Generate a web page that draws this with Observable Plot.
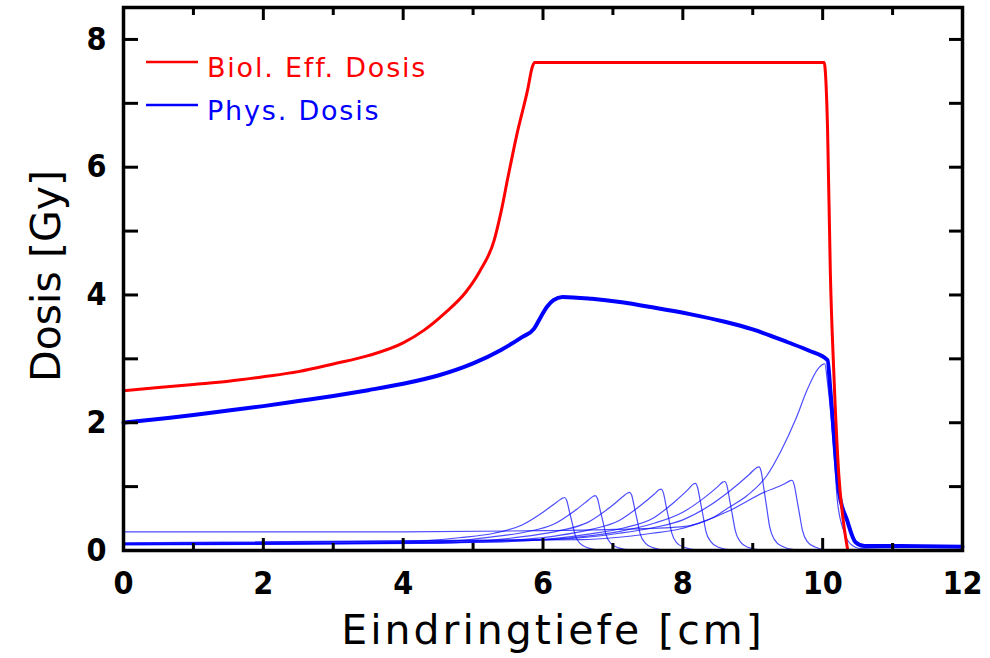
<!DOCTYPE html>
<html><head><meta charset="utf-8">
<script src="https://cdn.jsdelivr.net/npm/d3@7"></script>
<script src="https://cdn.jsdelivr.net/npm/@observablehq/plot@0.6"></script>
<style>
html,body{margin:0;padding:0;background:#fff;}
#chart{width:990px;height:658px;}
</style></head><body><div id="chart"></div>
<script>
// ---- tick labels / texts ----
const xTicks = [0, 2, 4, 6, 8, 10, 12];
const xMinorTicks = [1, 3, 5, 7, 9, 11];
const yTicks = [0, 2, 4, 6, 8];
const yAllTicks = [1, 2, 3, 4, 5, 6, 7, 8];
const xLabel = "Eindringtiefe [cm]";
const yLabel = "Dosis [Gy]";
const seriesNames = ["Biol. Eff. Dosis", "Phys. Dosis"];

// ---- Biol. Eff. Dosis (red) ----
const bioDepth = [0, 0.5, 1.0, 1.5, 2.0, 2.5, 3.0, 3.5, 4.0, 4.3, 4.6, 4.9, 5.1, 5.3, 5.4, 5.5, 5.63, 5.78, 5.85, 5.88, 10.02, 10.07, 10.11, 10.16, 10.23, 10.30, 10.36];
const bioDose  = [2.50, 2.55, 2.60, 2.65, 2.72, 2.80, 2.92, 3.05, 3.25, 3.45, 3.72, 4.05, 4.38, 4.85, 5.30, 5.85, 6.53, 7.21, 7.58, 7.64, 7.64, 6.60, 4.34, 2.77, 1.20, 0.42, 0.0];

// ---- Phys. Dosis (blue) ----
const physDepth = [0, 0.5, 1.0, 1.5, 2.0, 2.5, 3.0, 3.5, 4.0, 4.5, 5.0, 5.4, 5.7, 5.87, 5.97, 6.06, 6.15, 6.28, 6.7, 7.1, 7.6, 8.1, 8.6, 9.0, 9.5, 9.8, 10.07, 10.11, 10.23, 10.35, 10.47, 10.6, 11.0, 12.0];
const physDose  = [2.00, 2.06, 2.12, 2.19, 2.26, 2.34, 2.42, 2.51, 2.61, 2.74, 2.93, 3.14, 3.34, 3.47, 3.66, 3.82, 3.92, 3.97, 3.94, 3.89, 3.80, 3.70, 3.58, 3.46, 3.26, 3.13, 2.98, 2.51, 0.94, 0.47, 0.13, 0.07, 0.07, 0.06];

// ---- single Bragg peaks [depth, dose] ----
const bragg1 = [[0,0.09],[3.3,0.11],[4.3,0.15],[4.8,0.20],[5.3,0.27],[5.7,0.40],[6.0,0.60],[6.2,0.76],[6.28,0.82],[6.31,0.83],[6.34,0.78],[6.38,0.60],[6.42,0.42],[6.46,0.24],[6.53,0.11],[6.64,0.04],[6.81,0.01],[12,0]];
const bragg2 = [[0,0.09],[3.75,0.11],[4.75,0.15],[5.25,0.21],[5.75,0.29],[6.15,0.41],[6.45,0.62],[6.65,0.79],[6.72,0.85],[6.75,0.86],[6.78,0.81],[6.82,0.62],[6.86,0.44],[6.90,0.25],[6.97,0.11],[7.08,0.04],[7.25,0.01],[12,0]];
const bragg3 = [[0,0.09],[4.24,0.11],[5.24,0.16],[5.74,0.22],[6.24,0.31],[6.64,0.44],[6.94,0.66],[7.14,0.84],[7.21,0.90],[7.24,0.91],[7.27,0.86],[7.31,0.66],[7.35,0.46],[7.39,0.26],[7.46,0.12],[7.57,0.045],[7.74,0.01],[12,0]];
const bragg4 = [[0,0.10],[4.69,0.12],[5.69,0.17],[6.19,0.23],[6.69,0.33],[7.09,0.47],[7.39,0.70],[7.59,0.88],[7.66,0.95],[7.69,0.96],[7.72,0.91],[7.76,0.70],[7.80,0.49],[7.84,0.28],[7.91,0.125],[8.02,0.05],[8.19,0.01],[12,0]];
const bragg5 = [[0,0.10],[5.18,0.13],[6.18,0.19],[6.68,0.26],[7.18,0.36],[7.58,0.51],[7.88,0.76],[8.08,0.96],[8.15,1.04],[8.18,1.05],[8.21,0.99],[8.25,0.77],[8.29,0.54],[8.33,0.30],[8.40,0.14],[8.51,0.05],[8.68,0.01],[12,0]];
const bragg6 = [[0,0.11],[5.6,0.15],[6.6,0.22],[7.1,0.30],[7.6,0.43],[8.0,0.60],[8.3,0.82],[8.5,1.00],[8.57,1.07],[8.60,1.08],[8.63,1.02],[8.67,0.79],[8.71,0.55],[8.75,0.31],[8.82,0.14],[8.93,0.05],[9.10,0.01],[12,0]];
const bragg7 = [[0,0.12],[6.09,0.17],[7.09,0.27],[7.59,0.36],[8.0,0.48],[8.35,0.68],[8.68,0.94],[8.95,1.19],[9.06,1.30],[9.09,1.31],[9.12,1.24],[9.16,0.96],[9.20,0.67],[9.24,0.38],[9.31,0.17],[9.42,0.065],[9.59,0.013],[12,0]];
const bragg8 = [[0,0.11],[6.56,0.17],[7.56,0.27],[7.97,0.34],[8.21,0.42],[8.68,0.63],[9.16,0.91],[9.45,1.04],[9.53,1.09],[9.56,1.10],[9.59,1.04],[9.63,0.81],[9.67,0.56],[9.71,0.32],[9.78,0.14],[9.89,0.055],[10.06,0.011],[12,0]];
const bragg9 = [[0,0.29],[4.0,0.29],[6.0,0.31],[7.0,0.33],[7.97,0.37],[8.44,0.52],[8.64,0.66],[8.92,0.86],[9.2,1.17],[9.40,1.55],[9.62,2.07],[9.78,2.52],[9.93,2.84],[10.03,2.92],[10.07,2.62],[10.16,1.57],[10.21,0.78],[10.30,0.31],[10.40,0.10],[10.55,0.03],[12,0.01]];

// ---- build ----
const W = 990, H = 658, mL = 123, mR = 28, mT = 7, mB = 108;
const innerW = W - mL - mR, innerH = H - mT - mB;
const RED = "#ff0000", BLUE = "#0000ff";
const tickFont = "'DejaVu Sans Condensed', 'DejaVu Sans', sans-serif";
const bio = bioDepth.map((x, i) => ({x, y: bioDose[i]}));
const phys = physDepth.map((x, i) => ({x, y: physDose[i]}));
const braggs = [bragg1, bragg2, bragg3, bragg4, bragg5, bragg6, bragg7, bragg8, bragg9];

const plot = Plot.plot({
  width: W, height: H,
  marginLeft: mL, marginRight: mR, marginTop: mT, marginBottom: mB,
  x: {domain: [0, 12], label: null},
  y: {domain: [0, 8.5], label: null},
  style: {background: "white", fontFamily: tickFont},
  marks: [
    ...braggs.map(b => Plot.line(b, {x: d => d[0], y: d => d[1], stroke: BLUE, strokeOpacity: 0.7, strokeWidth: 1.2, curve: "monotone-x"})),
    Plot.line(phys, {x: "x", y: "y", stroke: BLUE, strokeWidth: 4, curve: "monotone-x"}),
    Plot.line(bio, {x: "x", y: "y", stroke: RED, strokeWidth: 3, curve: "monotone-x"}),
    // inward ticks
    Plot.ruleX(xTicks, {x: d => d, insetTop: innerH - 12, stroke: "black", strokeWidth: 3}),
    Plot.ruleX(xMinorTicks, {x: d => d, insetTop: innerH - 7, stroke: "black", strokeWidth: 3}),
    Plot.ruleX(xTicks, {x: d => d, insetBottom: innerH - 13, stroke: "black", strokeWidth: 3}),
    Plot.ruleX(xMinorTicks, {x: d => d, insetBottom: innerH - 8, stroke: "black", strokeWidth: 3}),
    Plot.ruleY(yAllTicks, {y: d => d, insetRight: innerW - 15, stroke: "black", strokeWidth: 3}),
    Plot.ruleY(yAllTicks, {y: d => d, insetLeft: innerW - 13, stroke: "black", strokeWidth: 3}),
    Plot.frame({stroke: "black", strokeWidth: 3.5}),
    Plot.axisX(xTicks, {tickSize: 0, tickPadding: 21, fontSize: 32, fontWeight: "bold", fontFamily: tickFont, label: null, tickFormat: d => String(d)}),
    Plot.axisY(yTicks, {tickSize: 0, tickPadding: 17, fontSize: 32, fontWeight: "bold", fontFamily: tickFont, label: null, tickFormat: d => String(d)})
  ]
});
document.getElementById("chart").appendChild(plot);

const svg = d3.select(plot);
const labelFont = "'DejaVu Sans', sans-serif";
svg.append("text")
  .attr("x", 553).attr("y", 644).attr("text-anchor", "middle")
  .style("font-family", labelFont).style("font-size", "41px").style("letter-spacing", "3px").attr("fill", "black")
  .text(xLabel);
svg.append("text")
  .attr("transform", "translate(60,276) rotate(-90)").attr("text-anchor", "middle")
  .style("font-family", labelFont).style("font-size", "41px").attr("fill", "black")
  .text(yLabel);

// legend
const legend = [{name: seriesNames[0], color: RED, y: 62}, {name: seriesNames[1], color: BLUE, y: 105}];
for (const l of legend) {
  svg.append("line").attr("x1", 146).attr("x2", 198).attr("y1", l.y).attr("y2", l.y)
    .attr("stroke", l.color).attr("stroke-width", 2.5);
  svg.append("text").attr("x", 207).attr("y", l.y + 15).attr("text-anchor", "start")
    .style("font-family", labelFont).style("font-size", "27px").style("letter-spacing", "1.8px").attr("fill", l.color)
    .text(l.name);
}
</script>
</body></html>
